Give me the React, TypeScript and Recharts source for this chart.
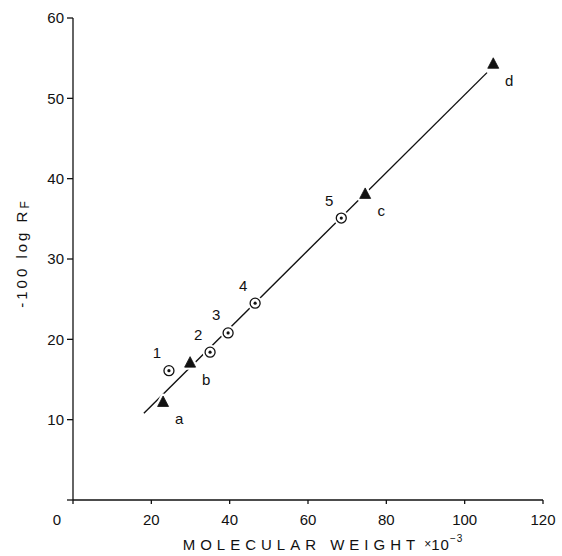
import React from 'react';
import { ScatterChart, Scatter, XAxis, YAxis, ReferenceLine } from 'recharts';

const circleMW = [24.5, 35.0, 39.6, 46.5, 68.5];
const circleRf = [16.1, 18.4, 20.8, 24.5, 35.1];
const circleNames = ['1', '2', '3', '4', '5'];

const triMW = [23.0, 29.9, 74.6, 107.3];
const triRf = [12.2, 17.1, 38.1, 54.3];
const triNames = ['a', 'b', 'c', 'd'];

const fitMW = [18.1, 105.7];
const fitRf = [10.8, 53.2];

const xTicks = [0, 20, 40, 60, 80, 100, 120];
const yTicks = [0, 10, 20, 30, 40, 50, 60];

const circleData = circleMW.map((x, i) => ({ x, y: circleRf[i], name: circleNames[i] }));
const triData = triMW.map((x, i) => ({ x, y: triRf[i], name: triNames[i] }));

const FONT = '"Liberation Sans", Arial, sans-serif';
const INK = '#111111';

const CircleShape = (props: any) => {
  const { cx, cy, payload } = props;
  return (
    <g>
      <circle cx={cx} cy={cy} r={7.5} fill="#fff" />
      <circle cx={cx} cy={cy} r={5} fill="#fff" stroke={INK} strokeWidth={1.3} />
      <circle cx={cx} cy={cy} r={1.6} fill={INK} />
      <text x={cx - 12} y={cy - 18} textAnchor="middle" dominantBaseline="central" fontSize={15} fontFamily={FONT} fill={INK}>
        {payload.name}
      </text>
    </g>
  );
};

const TriShape = (props: any) => {
  const { cx, cy, payload } = props;
  const pts = `${cx},${cy - 6} ${cx - 5.5},${cy + 4.5} ${cx + 5.5},${cy + 4.5}`;
  return (
    <g>
      <polygon points={pts} fill="#fff" stroke="#fff" strokeWidth={5} strokeLinejoin="round" />
      <polygon points={pts} fill={INK} stroke={INK} strokeWidth={0.8} />
      <text x={cx + 16} y={cy + 17} textAnchor="middle" dominantBaseline="central" fontSize={15} fontFamily={FONT} fill={INK}>
        {payload.name}
      </text>
    </g>
  );
};

const XTick = (props: any) => {
  const { x, y, payload } = props;
  const dx = payload.value === 0 ? -16 : 0;
  return (
    <text x={x + dx} y={y} dy="0.71em" textAnchor="middle" fontSize={15} fontFamily={FONT} fill={INK}>
      {payload.value}
    </text>
  );
};

const YTick = (props: any) => {
  const { x, y, payload } = props;
  if (payload.value === 0) return <g />;
  return (
    <text x={x} y={y} dy="0.355em" textAnchor="end" fontSize={15} fontFamily={FONT} fill={INK}>
      {payload.value}
    </text>
  );
};

const XLabel = (props: any) => {
  const vb = props.viewBox;
  return (
    <text x={vb.x + vb.width / 2 + 15} y={vb.y + 44} textAnchor="middle" dominantBaseline="central" fontSize={15} fontFamily={FONT} fill={INK} letterSpacing={5}>
      MOLECULAR WEIGHT
      <tspan letterSpacing={0} dx={4} fontSize={12}>×</tspan>
      <tspan letterSpacing={1}>10</tspan>
      <tspan letterSpacing={1} fontSize={10} dy={-6}>−3</tspan>
    </text>
  );
};

const YLabel = (props: any) => {
  const vb = props.viewBox;
  const cx = vb.x + 21;
  const cy = vb.y + vb.height / 2 - 6;
  return (
    <text x={cx} y={cy} transform={`rotate(-90, ${cx}, ${cy})`} textAnchor="middle" dominantBaseline="central" fontSize={15} fontFamily={FONT} fill={INK} letterSpacing={3}>
      -100 log R
      <tspan fontSize={12} dy={4}>F</tspan>
    </text>
  );
};

export default function App() {
  return (
    <div style={{ position: 'absolute', left: 0, top: 0, background: '#fff' }}>
      <ScatterChart width={562} height={556} margin={{ top: 18, right: 19, bottom: 0, left: 0 }}>
        <XAxis
          type="number"
          dataKey="x"
          domain={[0, 120]}
          ticks={xTicks}
          height={56}
          tickSize={4}
          tickMargin={10}
          tick={<XTick />}
          stroke={INK}
          strokeWidth={1.3}
          label={<XLabel />}
          allowDataOverflow
        />
        <YAxis
          type="number"
          dataKey="y"
          domain={[0, 60]}
          ticks={yTicks}
          width={73}
          tickSize={6}
          tickMargin={3}
          tick={<YTick />}
          stroke={INK}
          strokeWidth={1.3}
          label={<YLabel />}
          allowDataOverflow
        />
        <ReferenceLine
          segment={[{ x: fitMW[0], y: fitRf[0] }, { x: fitMW[1], y: fitRf[1] }]}
          stroke={INK}
          strokeWidth={1.4}
          ifOverflow="visible"
        />
        <Scatter data={triData} shape={<TriShape />} isAnimationActive={false} />
        <Scatter data={circleData} shape={<CircleShape />} isAnimationActive={false} />
      </ScatterChart>
    </div>
  );
}
